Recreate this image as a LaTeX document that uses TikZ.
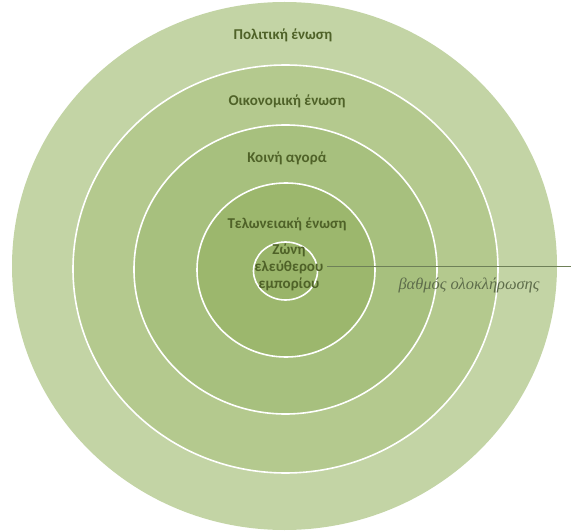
\documentclass[tikz,border=0pt]{standalone}
\usepackage{fontspec}
\setmainfont{Carlito}
\newfontfamily\italgreek{Liberation Serif}
\usetikzlibrary{shapes.geometric}

\definecolor{ringA}{HTML}{C3D4A5}
\definecolor{ringB}{HTML}{B4C98E}
\definecolor{ringC}{HTML}{A7C07E}
\definecolor{ringD}{HTML}{9CB76D}
\definecolor{ringE}{HTML}{99B469}
\definecolor{labelgreen}{HTML}{4F6228}
\definecolor{linegreen}{HTML}{6E8058}

\begin{document}
\begin{tikzpicture}[x=1pt,y=-1pt,
   ring/.style={ellipse,inner sep=0pt,draw=white,line width=1.6pt},
   zone/.style={font=\bfseries\fontsize{15}{17}\selectfont,text=labelgreen,align=center,inner sep=0pt},
   gradeline/.style={draw=linegreen,line width=0.8pt}]

\useasboundingbox (0,0) rectangle (571,532);

\node[ring,draw=none,fill=ringA,minimum width=545pt,minimum height=528pt] (politiki) at (284.5,266) {};
\node[ring,fill=ringB,minimum width=425pt,minimum height=408pt] (oikonomiki) at (285.5,269) {};
\node[ring,fill=ringC,minimum width=303pt,minimum height=289pt] (koini) at (285.5,269.5) {};
\node[ring,fill=ringD,minimum width=178pt,minimum height=174pt] (telwneiaki) at (286,270) {};
\node[ring,fill=ringE,minimum width=64pt,minimum height=58pt] (zwni) at (285.5,271) {};

\node[zone] (lpol) at (283,35) {Πολιτική ένωση};
\node[zone] (loik) at (287,101) {Οικονομική ένωση};
\node[zone] (lkoi) at (287,158) {Κοινή αγορά};
\node[zone] (ltel) at (287,224) {Τελωνειακή ένωση};
\node[zone] (lzwn) at (289,267) {Ζώνη\\ελεύθερου\\εμπορίου};

\coordinate (gstart) at (327,266);
\coordinate (gend) at (571,266);
\draw[gradeline] (gstart) -- (gend);

\node[font=\italgreek\itshape\fontsize{16.4}{18}\selectfont,text=linegreen!85!black,inner sep=0pt] (bathmos) at (469,285) {βαθμός ολοκλήρωσης};

\end{tikzpicture}
\end{document}
